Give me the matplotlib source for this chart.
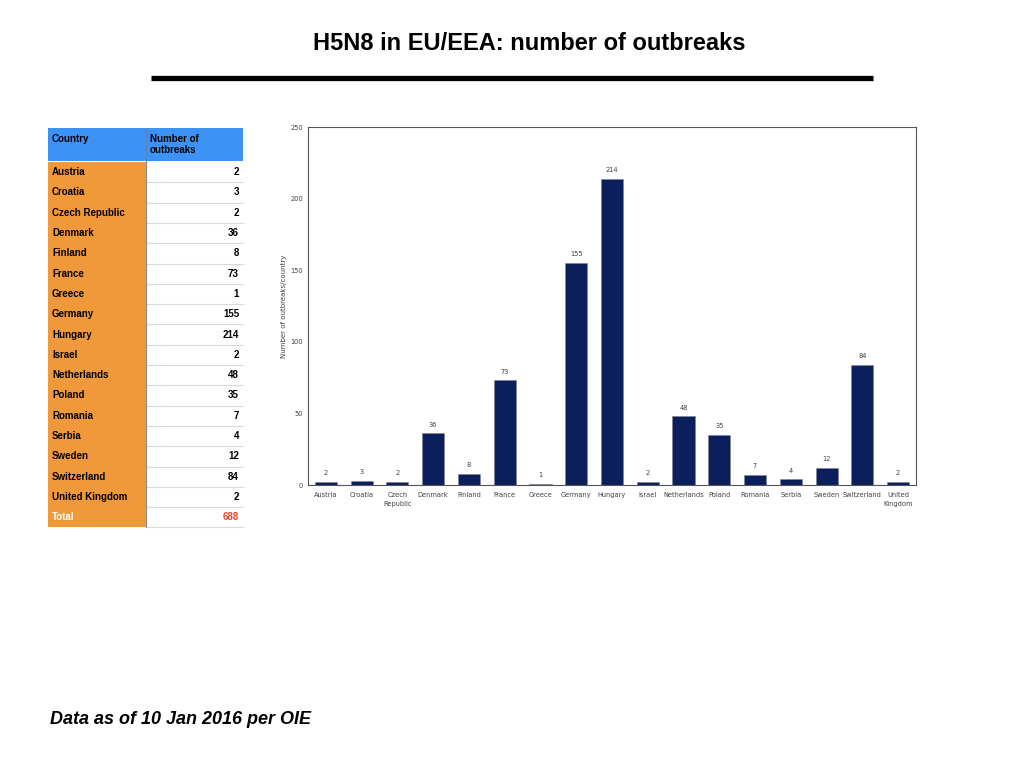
import matplotlib
matplotlib.use("Agg")
import matplotlib.pyplot as plt
from matplotlib.patches import Rectangle

countries = ["Austria", "Croatia", "Czech Republic", "Denmark", "Finland", "France",
             "Greece", "Germany", "Hungary", "Israel", "Netherlands", "Poland",
             "Romania", "Serbia", "Sweden", "Switzerland", "United Kingdom"]
outbreaks = [2, 3, 2, 36, 8, 73, 1, 155, 214, 2, 48, 35, 7, 4, 12, 84, 2]
tick_labels = ["Austria", "Croatia", "Czech\nRepublic", "Denmark", "Finland", "France",
               "Greece", "Germany", "Hungary", "Israel", "Netherlands", "Poland",
               "Romania", "Serbia", "Sweden", "Switzerland", "United\nKingdom"]
y_ticks = [0, 50, 100, 150, 200, 250]
total_label = "Total"

W, H = 1024, 768
fig = plt.figure(figsize=(W / 100, H / 100), dpi=100)
fig.patch.set_facecolor("white")

# overlay axes in pixel coordinates
ov = fig.add_axes([0, 0, 1, 1])
ov.set_xlim(0, W)
ov.set_ylim(H, 0)
ov.axis("off")

ov.text(529, 43, "H5N8 in EU/EEA: number of outbreaks", ha="center", va="center",
        fontsize=17, fontweight="bold", family="Liberation Sans")
ov.plot([151, 873], [78, 78], color="black", lw=3.8, solid_capstyle="butt")

# table
x0, xs, x1 = 48, 146, 243
hdr_top, hdr_bot = 128, 161
row_h = 20.3
blue = "#3d93f5"
orange = "#f0993a"
ov.add_patch(Rectangle((x0, hdr_top), x1 - x0, hdr_bot - hdr_top, facecolor=blue, edgecolor="none"))
ov.plot([xs, xs], [hdr_top, hdr_bot], color="#5a7fb0", lw=0.6)
ov.text(x0 + 4, hdr_top + 6, "Country", ha="left", va="top", fontsize=7, fontweight="bold",
        family="Liberation Sans")
ov.text(xs + 4, hdr_top + 6, "Number of\noutbreaks", ha="left", va="top", fontsize=7,
        fontweight="bold", family="Liberation Sans", linespacing=1.1)
rows = list(zip(countries, outbreaks)) + [(total_label, sum(outbreaks))]
for i, (c, v) in enumerate(rows):
    top = hdr_bot + 1 + i * row_h
    ov.add_patch(Rectangle((x0, top), xs - x0, row_h, facecolor=orange, edgecolor="none"))
    ov.add_patch(Rectangle((xs, top), x1 - xs, row_h, facecolor="white", edgecolor="none"))
    ov.plot([xs, x1], [top + row_h, top + row_h], color="#d9d9d9", lw=0.8)
    is_total = (i == len(rows) - 1)
    ov.text(x0 + 4, top + row_h / 2, c, ha="left", va="center", fontsize=7, fontweight="bold",
            family="Liberation Sans", color="white" if is_total else "black")
    ov.text(x1 - 4, top + row_h / 2, str(v), ha="right", va="center", fontsize=7,
            fontweight="bold", family="Liberation Sans",
            color="#e8452c" if is_total else "black")
table_bot = hdr_bot + 1 + len(rows) * row_h
ov.plot([xs, xs], [hdr_bot, table_bot], color="#8a8a8a", lw=0.8)

ov.text(50, 719, "Data as of 10 Jan 2016 per OIE", ha="left", va="center", fontsize=13,
        fontweight="bold", fontstyle="italic", family="Liberation Sans")

# bar chart
ax = fig.add_axes([308 / W, 1 - 485 / H, (916 - 308) / W, (485 - 127) / H])
x = list(range(len(countries)))
bars = ax.bar(x, outbreaks, width=0.62, color="#0b1f5c", edgecolor="#7f8593", linewidth=0.4)
for xi, v in zip(x, outbreaks):
    ax.text(xi, v + 4, str(v), ha="center", va="bottom", fontsize=4.8, color="#404040")
ax.set_xlim(-0.5, len(countries) - 0.5)
ax.set_ylim(0, 250)
ax.set_yticks(y_ticks)
ax.set_yticklabels([str(t) for t in y_ticks], fontsize=4.8, color="#404040")
ax.set_xticks(x)
ax.set_xticklabels(tick_labels, fontsize=4.8, color="#404040", linespacing=1.6)
ax.tick_params(length=0, pad=5)
ax.tick_params(axis="y", pad=3.5)
for s in ax.spines.values():
    s.set_color("#555555")
    s.set_linewidth(0.8)
ax.set_ylabel("Number of outbreaks/country", fontsize=5, color="#404040")
ax.yaxis.set_label_coords(-0.034, 0.5)

fig.savefig("out.png", dpi=100)
